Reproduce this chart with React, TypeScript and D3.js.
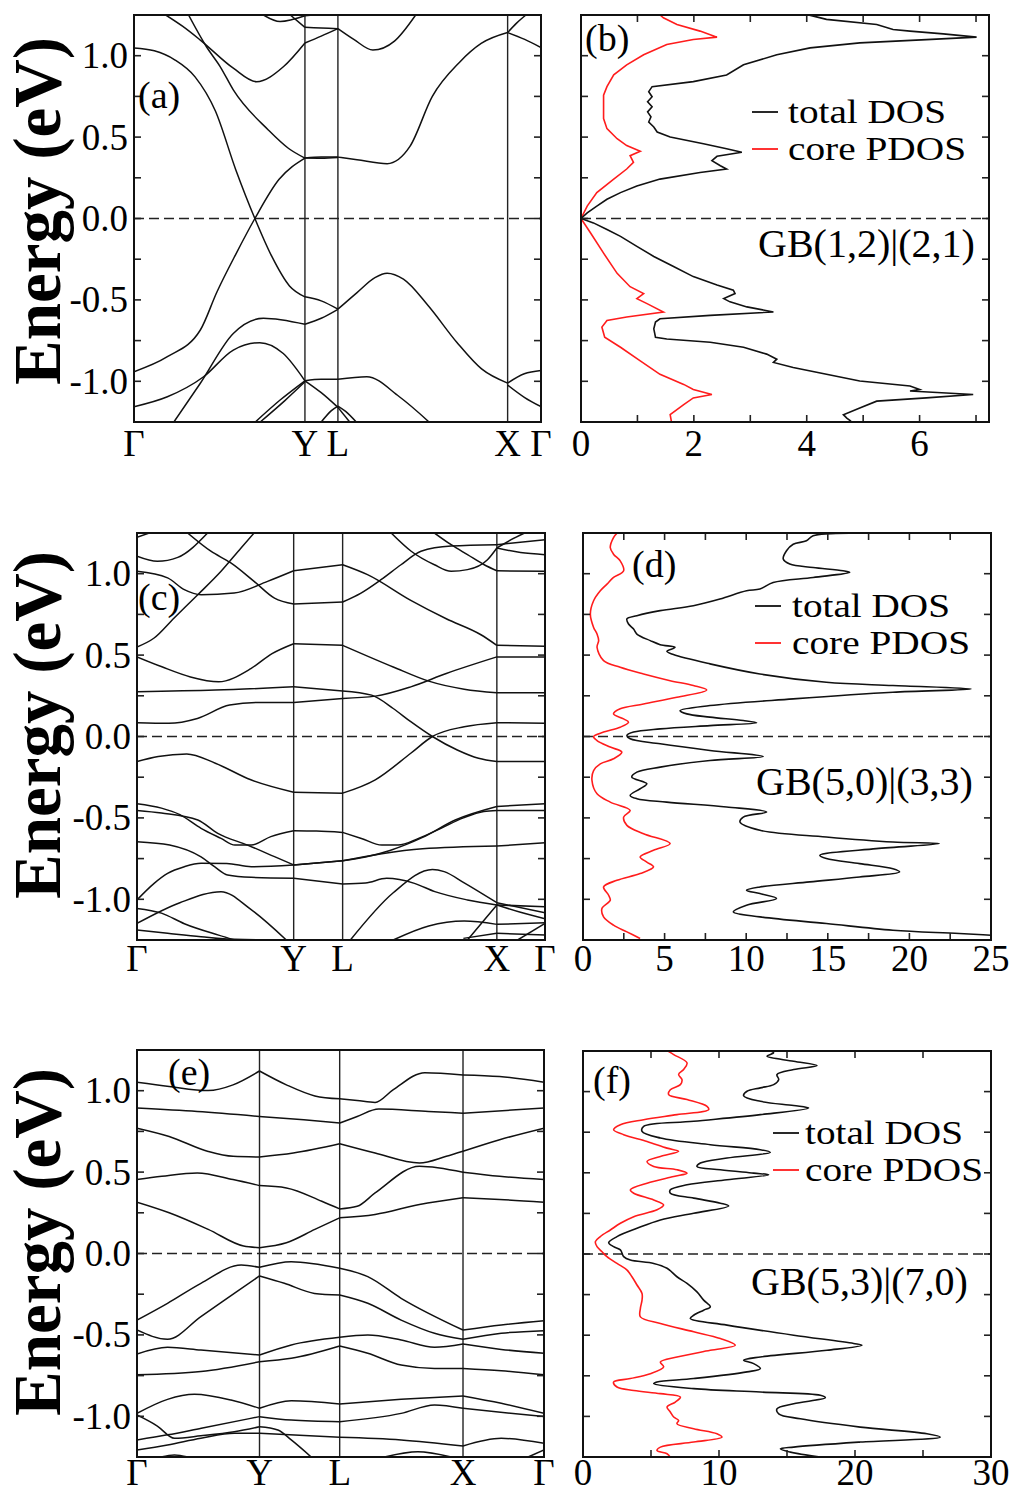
import React, { useEffect, useRef } from "react";
import * as d3 from "d3";

type Pt = [number, number];

// k-path (fraction of path length) of the high-symmetry points
const kLabels = ["Γ", "Y", "L", "X", "Γ"];
const kPathA = [0, 0.42, 0.501, 0.918, 1];
const kPathC = [0, 0.384, 0.504, 0.882, 1];
const kPathE = [0, 0.301, 0.498, 0.801, 1];

const energyRange: Pt = [-1.25, 1.25];
const energyTicks = [1.0, 0.5, 0.0, -0.5, -1.0];
const energyTickLabels = ["1.0", "0.5", "0.0", "-0.5", "-1.0"];

const dosTicksB = [0, 2, 4, 6];
const dosTicksD = [0, 5, 10, 15, 20, 25];
const dosTicksF = [0, 10, 20, 30];

const legendNames = ["total DOS", "core PDOS"];
const gbNames = ["GB(1,2)|(2,1)", "GB(5,0)|(3,3)", "GB(5,3)|(7,0)"];
const panelNames = ["(a)", "(b)", "(c)", "(d)", "(e)", "(f)"];

// bands: [k, E]
const bandsA: Pt[][] = [
  [[0, 1.048], [0.05, 1.03], [0.1, 0.975], [0.15, 0.87], [0.2, 0.66], [0.25, 0.3], [0.297, 0], [0.338, -0.23], [0.382, -0.414], [0.42, -0.481], [0.46, -0.506], [0.501, -0.557], [0.548, -0.455], [0.592, -0.363], [0.622, -0.336], [0.662, -0.373], [0.723, -0.536], [0.793, -0.76], [0.854, -0.924], [0.918, -1.011], [0.959, -0.954], [1, -0.934]],
  [[0, -0.941], [0.082, -0.849], [0.163, -0.685], [0.204, -0.45], [0.25, -0.22], [0.297, 0], [0.356, 0.239], [0.42, 0.371], [0.46, 0.377], [0.501, 0.377], [0.548, 0.361], [0.622, 0.337], [0.678, 0.443], [0.733, 0.75], [0.8, 0.96], [0.853, 1.075], [0.918, 1.142], [0.96, 1.1], [1, 1.05]],
  [[0.918, 1.142], [0.94, 1.2], [0.963, 1.25]],
  [[0.078, 1.25], [0.12, 1.18], [0.163, 1.096], [0.244, 0.923], [0.301, 0.84], [0.367, 0.932], [0.42, 1.078], [0.46, 1.12], [0.501, 1.166], [0.54, 1.1], [0.587, 1.035], [0.64, 1.09], [0.692, 1.25]],
  [[0.134, 1.25], [0.178, 1.055], [0.212, 0.932], [0.244, 0.79], [0.33, 0.544], [0.38, 0.43], [0.42, 0.371], [0.46, 0.37], [0.501, 0.375]],
  [[0.318, 1.25], [0.359, 1.21], [0.42, 1.245], [0.44, 1.25]],
  [[0.384, 1.25], [0.42, 1.174], [0.46, 1.17], [0.501, 1.166]],
  [[0, -1.156], [0.082, -1.095], [0.171, -0.972], [0.244, -0.808], [0.309, -0.763], [0.366, -0.828], [0.42, -0.997], [0.46, -0.988], [0.501, -0.988], [0.572, -0.972], [0.652, -1.095], [0.725, -1.25]],
  [[0.098, -1.25], [0.163, -1.012], [0.244, -0.706], [0.318, -0.613], [0.42, -0.65], [0.46, -0.613], [0.501, -0.558]],
  [[0.918, -1.023], [0.96, -1.1], [1, -1.156]],
  [[0.298, -1.25], [0.359, -1.115], [0.42, -0.997]],
  [[0.31, -1.25], [0.37, -1.12], [0.42, -1.003]],
  [[0.42, -0.997], [0.46, -1.07], [0.501, -1.16], [0.53, -1.25]],
  [[0.46, -1.25], [0.485, -1.18], [0.501, -1.152], [0.52, -1.185], [0.546, -1.25]],
];

const bandsC: Pt[][] = [
  [[0, 1.224], [0.03, 1.25]],
  [[0, 1.107], [0.05, 1.076], [0.1, 1.1], [0.173, 1.25]],
  [[0, 1.015], [0.075, 0.974], [0.116, 0.902], [0.157, 0.871], [0.238, 0.881], [0.32, 0.953], [0.384, 1.018], [0.504, 1.055], [0.565, 0.994], [0.671, 0.836], [0.758, 0.723], [0.843, 0.625], [0.882, 0.56], [1, 0.554]],
  [[0.124, 1.25], [0.181, 1.138], [0.23, 1.066], [0.287, 0.953], [0.337, 0.85], [0.384, 0.814], [0.504, 0.826], [0.549, 0.881], [0.598, 0.963], [0.647, 1.055], [0.696, 1.138], [0.77, 1.17], [0.882, 1.178], [1, 1.209]],
  [[0, 0.55], [0.042, 0.605], [0.091, 0.728], [0.149, 0.871], [0.206, 1.015], [0.255, 1.158], [0.287, 1.25]],
  [[0.623, 1.25], [0.672, 1.138], [0.729, 1.055], [0.77, 1.015], [0.81, 1.025], [0.859, 1.086], [0.882, 1.158], [0.94, 1.13], [1, 1.117]],
  [[0.882, 1.158], [0.917, 1.209], [0.95, 1.25]],
  [[0.729, 1.25], [0.77, 1.178], [0.81, 1.117], [0.851, 1.055], [0.882, 1.018], [1, 1.015]],
  [[0, 0.489], [0.061, 0.428], [0.131, 0.366], [0.2, 0.336], [0.279, 0.417], [0.331, 0.509], [0.384, 0.57], [0.504, 0.56], [0.628, 0.427], [0.715, 0.34], [0.802, 0.29], [0.882, 0.268], [1, 0.268]],
  [[0, 0.085], [0.078, 0.081], [0.148, 0.111], [0.227, 0.193], [0.297, 0.209], [0.384, 0.209], [0.504, 0.234], [0.584, 0.248], [0.671, 0.305], [0.758, 0.387], [0.882, 0.489], [1, 0.489]],
  [[0, 0.275], [0.192, 0.285], [0.384, 0.305], [0.504, 0.28], [0.575, 0.254], [0.628, 0.172], [0.671, 0.091], [0.724, 0], [0.785, -0.083], [0.837, -0.134], [0.882, -0.154], [1, -0.154]],
  [[0, -0.154], [0.052, -0.123], [0.122, -0.107], [0.192, -0.164], [0.279, -0.266], [0.384, -0.342], [0.504, -0.348], [0.584, -0.266], [0.671, -0.103], [0.724, 0], [0.802, 0.06], [0.882, 0.085], [1, 0.081]],
  [[0, -0.413], [0.06, -0.44], [0.105, -0.48], [0.157, -0.564], [0.206, -0.626], [0.24, -0.667], [0.28, -0.667], [0.328, -0.615], [0.384, -0.579], [0.44, -0.581], [0.504, -0.589], [0.55, -0.626], [0.6, -0.667], [0.64, -0.667], [0.69, -0.626], [0.745, -0.564], [0.8, -0.5], [0.85, -0.46], [0.882, -0.454], [1, -0.454]],
  [[0, -0.454], [0.06, -0.47], [0.149, -0.513], [0.198, -0.595], [0.271, -0.667], [0.337, -0.738], [0.384, -0.789], [0.504, -0.763], [0.56, -0.74], [0.62, -0.7], [0.7, -0.62], [0.78, -0.513], [0.882, -0.43], [1, -0.413]],
  [[0, -0.646], [0.08, -0.667], [0.157, -0.74], [0.19, -0.8], [0.222, -0.851], [0.28, -0.865], [0.384, -0.87], [0.504, -0.906], [0.56, -0.9], [0.612, -0.871], [0.68, -0.902], [0.73, -0.953], [0.81, -1.004], [0.882, -1.035], [1, -1.045]],
  [[0, -1.004], [0.042, -0.902], [0.075, -0.841], [0.116, -0.8], [0.157, -0.779], [0.22, -0.78], [0.28, -0.8], [0.384, -0.79], [0.504, -0.763], [0.6, -0.72], [0.7, -0.69], [0.882, -0.673], [1, -0.652]],
  [[0, -1.056], [0.06, -1.085], [0.116, -1.15], [0.2, -1.22], [0.24, -1.25]],
  [[0, -1.148], [0.105, -1.021], [0.206, -0.953], [0.279, -1.062], [0.366, -1.25]],
  [[0, -1.189], [0.075, -1.209], [0.157, -1.23], [0.239, -1.246], [0.384, -1.25]],
  [[0.523, -1.25], [0.628, -0.96], [0.724, -0.817], [0.753, -0.83], [0.802, -0.899], [0.882, -1.021], [1, -1.083]],
  [[0.81, -1.25], [0.85, -1.13], [0.882, -1.035], [0.94, -1.08], [1, -1.12]],
  [[0.628, -1.25], [0.715, -1.164], [0.802, -1.134], [0.882, -1.154], [1, -1.144]],
  [[0.8, -1.24], [0.882, -1.209], [1, -1.219]],
  [[0.933, -1.25], [1, -1.148]],
];

const bandsE: Pt[][] = [
  [[0, 1.052], [0.079, 1.026], [0.175, 1.001], [0.236, 1.036], [0.301, 1.121], [0.367, 1.036], [0.437, 0.968], [0.498, 0.95], [0.541, 0.94], [0.585, 0.928], [0.629, 1.005], [0.707, 1.111], [0.801, 1.097], [0.891, 1.087], [1, 1.052]],
  [[0, 0.893], [0.148, 0.872], [0.301, 0.842], [0.41, 0.821], [0.498, 0.801], [0.541, 0.842], [0.594, 0.887], [0.716, 0.872], [0.801, 0.862], [1, 0.893]],
  [[0, 0.77], [0.079, 0.719], [0.175, 0.627], [0.236, 0.597], [0.301, 0.593], [0.384, 0.617], [0.498, 0.674], [0.585, 0.617], [0.694, 0.556], [0.76, 0.597], [0.801, 0.628], [0.891, 0.699], [1, 0.77]],
  [[0, 0.454], [0.061, 0.474], [0.148, 0.495], [0.236, 0.454], [0.301, 0.417], [0.367, 0.403], [0.454, 0.321], [0.498, 0.274], [0.541, 0.29], [0.585, 0.372], [0.694, 0.536], [0.801, 0.499], [0.891, 0.474], [1, 0.454]],
  [[0, 0.315], [0.079, 0.25], [0.175, 0.148], [0.262, 0.046], [0.301, 0.036], [0.367, 0.066], [0.437, 0.148], [0.498, 0.219], [0.585, 0.24], [0.694, 0.301], [0.801, 0.342], [0.891, 0.332], [1, 0.315]],
  [[0, -0.409], [0.075, -0.306], [0.157, -0.183], [0.256, -0.071], [0.301, -0.085], [0.379, -0.05], [0.498, -0.091], [0.567, -0.142], [0.649, -0.275], [0.801, -0.47], [0.895, -0.439], [1, -0.413]],
  [[0, -0.47], [0.075, -0.527], [0.157, -0.388], [0.239, -0.245], [0.301, -0.138], [0.362, -0.183], [0.436, -0.245], [0.498, -0.255], [0.567, -0.306], [0.649, -0.409], [0.731, -0.49], [0.801, -0.527], [0.895, -0.49], [1, -0.474]],
  [[0, -0.617], [0.075, -0.576], [0.157, -0.593], [0.301, -0.624], [0.379, -0.562], [0.498, -0.515], [0.567, -0.501], [0.649, -0.531], [0.731, -0.576], [0.801, -0.556], [0.895, -0.589], [1, -0.613]],
  [[0, -0.745], [0.157, -0.725], [0.301, -0.665], [0.379, -0.644], [0.498, -0.568], [0.567, -0.613], [0.649, -0.685], [0.731, -0.706], [0.801, -0.706], [0.895, -0.72], [1, -0.745]],
  [[0, -0.982], [0.075, -0.896], [0.141, -0.865], [0.231, -0.9], [0.301, -0.951], [0.379, -0.904], [0.498, -0.924], [0.649, -0.896], [0.801, -0.875], [0.895, -0.92], [1, -0.982]],
  [[0, -1.145], [0.075, -1.114], [0.158, -1.073], [0.301, -1.002], [0.379, -1.023], [0.498, -1.033], [0.649, -0.982], [0.731, -0.93], [0.801, -0.951], [1, -1.002]],
  [[0, -0.992], [0.05, -1.06], [0.092, -1.135], [0.157, -1.12], [0.239, -1.095], [0.301, -1.064], [0.346, -1.084], [0.379, -1.145], [0.428, -1.25]],
  [[0, -1.207], [0.075, -1.176], [0.157, -1.135], [0.239, -1.104], [0.301, -1.104], [0.498, -1.129], [0.649, -1.145], [0.801, -1.182], [0.895, -1.135], [1, -1.166]],
  [[0.059, -1.25], [0.092, -1.237], [0.125, -1.25]],
  [[0.608, -1.25], [0.69, -1.217], [0.772, -1.25]],
  [[0.961, -1.25], [1, -1.207]],
];

// DOS: [E, states/eV]
const totalDosB: Pt[] = [
  [1.25, 4.03], [1.243, 4.12], [1.223, 4.35], [1.192, 5.24], [1.161, 5.53], [1.151, 5.83], [1.134, 6.42], [1.114, 7.01], [1.099, 6.12], [1.079, 4.94], [1.048, 4.06], [1.006, 3.47], [0.944, 2.88], [0.882, 2.58], [0.841, 1.99], [0.81, 1.26], [0.779, 1.2], [0.748, 1.26], [0.717, 1.18], [0.686, 1.26], [0.655, 1.18], [0.624, 1.24], [0.593, 1.2], [0.562, 1.29], [0.531, 1.35], [0.5, 1.58], [0.459, 2.17], [0.428, 2.58], [0.407, 2.85], [0.382, 2.41], [0.355, 2.32], [0.324, 2.47], [0.304, 2.58], [0.283, 2.11], [0.242, 1.4], [0.2, 0.99], [0.159, 0.7], [0.118, 0.46], [0.076, 0.28], [0.035, 0.11], [0, 0],
  [-0.027, 0.22], [-0.068, 0.46], [-0.11, 0.7], [-0.171, 0.99], [-0.233, 1.29], [-0.295, 1.64], [-0.357, 1.99], [-0.409, 2.41], [-0.44, 2.7], [-0.461, 2.73], [-0.492, 2.53], [-0.512, 2.64], [-0.543, 2.94], [-0.574, 3.41], [-0.595, 2.29], [-0.616, 1.4], [-0.636, 1.32], [-0.678, 1.29], [-0.729, 1.32], [-0.74, 1.52], [-0.76, 2.29], [-0.791, 2.88], [-0.833, 3.29], [-0.864, 3.47], [-0.884, 3.41], [-0.915, 3.76], [-0.957, 4.35], [-0.998, 4.94], [-1.029, 5.83], [-1.05, 6.0], [-1.06, 5.83], [-1.081, 6.95], [-1.102, 6.12], [-1.122, 5.24], [-1.164, 4.94], [-1.205, 4.65], [-1.226, 4.71], [-1.242, 4.77], [-1.263, 4.83],
];
const coreDosB: Pt[] = [
  [1.25, 1.4], [1.233, 1.46], [1.192, 1.7], [1.151, 2.11], [1.114, 2.41], [1.1, 1.99], [1.069, 1.52], [1.006, 1.11], [0.944, 0.81], [0.882, 0.58], [0.81, 0.46], [0.758, 0.4], [0.696, 0.4], [0.614, 0.4], [0.552, 0.46], [0.49, 0.64], [0.448, 0.81], [0.413, 1.05], [0.386, 0.87], [0.345, 0.93], [0.304, 0.81], [0.242, 0.58], [0.159, 0.28], [0.076, 0.11], [0, 0],
  [-0.089, 0.17], [-0.213, 0.4], [-0.337, 0.64], [-0.419, 0.87], [-0.461, 1.11], [-0.492, 0.99], [-0.523, 1.17], [-0.574, 1.46], [-0.605, 0.81], [-0.626, 0.46], [-0.667, 0.37], [-0.729, 0.42], [-0.791, 0.7], [-0.874, 1.05], [-0.957, 1.4], [-1.019, 1.82], [-1.05, 1.99], [-1.081, 2.32], [-1.102, 1.99], [-1.143, 1.82], [-1.205, 1.58], [-1.263, 1.61],
];

const totalDosD: Pt[] = [
  [1.249, 16.54], [1.233, 14.1], [1.202, 13.69], [1.181, 12.88], [1.141, 12.47], [1.09, 12.27], [1.059, 12.67], [1.038, 14.1], [1.018, 15.93], [1.008, 16.34], [0.977, 14.1], [0.946, 11.65], [0.906, 10.84], [0.895, 10.02], [0.844, 8.39], [0.803, 6.76], [0.773, 4.73], [0.742, 3.3], [0.722, 2.69], [0.691, 2.79], [0.66, 3.1], [0.629, 3.3], [0.589, 4.12], [0.564, 4.73], [0.548, 5.64], [0.523, 5.14], [0.503, 5.54], [0.446, 7.78], [0.384, 10.84], [0.333, 14.91], [0.313, 18.99], [0.292, 23.78], [0.272, 18.99], [0.231, 12.88], [0.19, 7.78], [0.159, 5.95], [0.139, 6.36], [0.119, 7.78], [0.098, 9.82], [0.084, 10.64], [0.067, 7.78], [0.047, 4.73], [0.027, 3.1], [0.006, 2.69],
  [-0.014, 2.89], [-0.045, 4.73], [-0.086, 7.78], [-0.123, 11.04], [-0.147, 7.78], [-0.188, 4.73], [-0.219, 3.3], [-0.249, 2.99], [-0.29, 3.91], [-0.321, 3.5], [-0.362, 2.89], [-0.382, 3.3], [-0.403, 5.13], [-0.433, 8.8], [-0.464, 11.25], [-0.495, 9.82], [-0.525, 9.62], [-0.576, 10.84], [-0.617, 14.91], [-0.648, 18.99], [-0.658, 21.84], [-0.689, 17.97], [-0.73, 14.51], [-0.75, 14.91], [-0.781, 16.95], [-0.812, 18.99], [-0.832, 19.4], [-0.863, 16.95], [-0.893, 13.9], [-0.924, 10.84], [-0.944, 10.02], [-0.965, 10.84], [-0.995, 11.86], [-1.036, 10.02], [-1.077, 9.21], [-1.108, 10.84], [-1.149, 14.91], [-1.19, 18.99], [-1.21, 23.06], [-1.23, 26.7],
];
const coreDosD: Pt[] = [
  [1.249, 2.08], [1.222, 1.87], [1.161, 1.67], [1.12, 1.87], [1.079, 2.28], [1.018, 2.49], [0.977, 1.87], [0.936, 1.47], [0.895, 1.06], [0.834, 0.65], [0.752, 0.45], [0.67, 0.65], [0.63, 0.86], [0.589, 0.96], [0.548, 0.86], [0.466, 1.26], [0.425, 2.28], [0.384, 3.71], [0.343, 5.34], [0.313, 6.76], [0.286, 7.58], [0.241, 5.75], [0.2, 3.71], [0.17, 2.28], [0.139, 1.87], [0.108, 2.49], [0.088, 2.79], [0.057, 2.28], [0.027, 1.26], [0, 0.65],
  [-0.025, 0.86], [-0.065, 1.67], [-0.096, 2.38], [-0.137, 1.87], [-0.168, 1.06], [-0.209, 0.65], [-0.27, 0.55], [-0.352, 0.86], [-0.403, 1.67], [-0.454, 2.89], [-0.495, 2.49], [-0.546, 2.69], [-0.597, 3.71], [-0.658, 5.34], [-0.699, 4.32], [-0.74, 3.5], [-0.771, 3.91], [-0.801, 4.32], [-0.842, 3.5], [-0.883, 2.08], [-0.924, 1.26], [-0.975, 1.57], [-1.006, 1.67], [-1.057, 1.16], [-1.108, 1.26], [-1.159, 1.87], [-1.2, 2.69], [-1.241, 3.5],
];

const totalDosF: Pt[] = [
  [1.253, 13.65], [1.239, 14.02], [1.218, 13.53], [1.187, 15.49], [1.16, 17.21], [1.136, 15.49], [1.105, 14.26], [1.074, 14.39], [1.043, 14.02], [1.023, 13.04], [1.002, 12.06], [0.975, 11.81], [0.94, 13.04], [0.914, 15.49], [0.899, 16.59], [0.858, 13.04], [0.817, 8.14], [0.786, 4.46], [0.755, 4.34], [0.714, 5.69], [0.673, 9.36], [0.642, 13.04], [0.626, 13.77], [0.591, 10.59], [0.56, 8.63], [0.539, 8.38], [0.519, 10.1], [0.498, 12.55], [0.488, 13.65], [0.457, 10.59], [0.426, 7.65], [0.395, 6.42], [0.374, 6.42], [0.344, 8.14], [0.313, 10.1], [0.296, 10.71], [0.251, 8.14], [0.21, 5.69], [0.158, 3.97], [0.107, 2.5], [0.07, 1.89], [0.045, 2.25], [0.025, 2.75],
  [-0.016, 2.99], [-0.037, 3.48], [-0.058, 5.2], [-0.088, 6.18], [-0.14, 6.91], [-0.181, 7.65], [-0.233, 8.38], [-0.284, 8.87], [-0.325, 9.36], [-0.346, 8.87], [-0.377, 8.14], [-0.397, 7.89], [-0.438, 10.59], [-0.5, 15.49], [-0.551, 19.9], [-0.562, 20.51], [-0.593, 17.94], [-0.634, 13.04], [-0.654, 11.81], [-0.675, 12.55], [-0.706, 13.04], [-0.726, 12.06], [-0.767, 8.14], [-0.788, 5.44], [-0.798, 5.2], [-0.829, 8.14], [-0.85, 13.04], [-0.87, 17.45], [-0.885, 17.82], [-0.922, 15.49], [-0.953, 14.26], [-0.984, 14.39], [-1.015, 15.98], [-1.066, 20.39], [-1.107, 25.29], [-1.128, 26.27], [-1.158, 20.39], [-1.189, 15.49], [-1.2, 14.51], [-1.22, 15.25], [-1.251, 17.45],
];
const coreDosF: Pt[] = [
  [1.253, 6.18], [1.228, 6.67], [1.177, 7.65], [1.136, 7.4], [1.105, 7.03], [1.074, 7.28], [1.043, 7.16], [1.012, 6.42], [0.981, 6.3], [0.951, 7.65], [0.909, 9.12], [0.889, 9.24], [0.858, 6.91], [0.827, 4.46], [0.796, 2.75], [0.765, 2.25], [0.735, 2.99], [0.693, 4.71], [0.652, 6.18], [0.632, 7.03], [0.601, 5.69], [0.57, 4.71], [0.539, 5.2], [0.519, 6.91], [0.498, 7.65], [0.477, 6.67], [0.436, 4.71], [0.395, 3.48], [0.374, 3.73], [0.333, 5.2], [0.302, 5.93], [0.272, 5.44], [0.23, 3.73], [0.189, 2.75], [0.148, 2.01], [0.107, 1.27], [0.076, 0.91], [0.045, 1.03], [0.014, 1.4],
  [-0.016, 1.76], [-0.058, 2.5], [-0.099, 3.24], [-0.14, 3.6], [-0.191, 3.97], [-0.243, 4.34], [-0.284, 4.34], [-0.335, 4.22], [-0.387, 4.22], [-0.428, 5.69], [-0.479, 8.14], [-0.521, 10.1], [-0.562, 11.2], [-0.593, 9.36], [-0.634, 6.91], [-0.665, 5.69], [-0.695, 5.93], [-0.737, 4.95], [-0.767, 3.48], [-0.788, 2.25], [-0.819, 2.5], [-0.84, 3.73], [-0.86, 5.69], [-0.881, 7.16], [-0.912, 6.79], [-0.942, 6.18], [-0.973, 6.42], [-1.004, 6.67], [-1.025, 7.03], [-1.045, 6.91], [-1.076, 8.14], [-1.107, 9.85], [-1.128, 10.22], [-1.158, 8.14], [-1.189, 5.69], [-1.21, 5.44], [-1.23, 6.18], [-1.251, 6.42],
];

const FONT = '"Liberation Serif", "Times New Roman", serif';
const RED = "#ff1c1c";

type Box = { x0: number; x1: number; y0: number; y1: number };

function frameAndTicks(svg: any, box: Box, y: any) {
  // energy ticks every 0.25 eV, inward on both sides
  d3.range(-1, 1.001, 0.25).forEach((e: number) => {
    [
      [box.x0, box.x0 + 7],
      [box.x1, box.x1 - 7],
    ].forEach(([a, b]) => {
      svg.append("line").attr("x1", a).attr("x2", b).attr("y1", y(e)).attr("y2", y(e))
        .attr("stroke", "#222").attr("stroke-width", 1.6);
    });
  });
  svg.append("rect")
    .attr("x", box.x0).attr("y", box.y0)
    .attr("width", box.x1 - box.x0).attr("height", box.y1 - box.y0)
    .attr("fill", "none").attr("stroke", "#111").attr("stroke-width", 2);
}

function drawBand(svg: any, id: string, box: Box, kPath: number[], bands: Pt[][], labelBase: number) {
  const x = d3.scaleLinear().domain([0, 1]).range([box.x0, box.x1]);
  const y = d3.scaleLinear().domain(energyRange).range([box.y1, box.y0]);

  svg.append("clipPath").attr("id", id).append("rect")
    .attr("x", box.x0).attr("y", box.y0).attr("width", box.x1 - box.x0).attr("height", box.y1 - box.y0);
  const g = svg.append("g").attr("clip-path", `url(#${id})`);

  kPath.slice(1, -1).forEach((k) => {
    g.append("line").attr("x1", x(k)).attr("x2", x(k)).attr("y1", box.y0).attr("y2", box.y1)
      .attr("stroke", "#222").attr("stroke-width", 1.4);
  });
  g.append("line").attr("x1", box.x0).attr("x2", box.x1).attr("y1", y(0)).attr("y2", y(0))
    .attr("stroke", "#222").attr("stroke-width", 1.6).attr("stroke-dasharray", "10,5");

  const line = d3.line<Pt>().x((d) => x(d[0])).y((d) => y(d[1])).curve(d3.curveMonotoneX);
  bands.forEach((b) => {
    for (let i = 0; i < kPath.length - 1; i++) {
      const seg = b.filter((p) => p[0] >= kPath[i] - 1e-6 && p[0] <= kPath[i + 1] + 1e-6);
      if (seg.length > 1) {
        g.append("path").attr("d", line(seg)).attr("fill", "none")
          .attr("stroke", "#111").attr("stroke-width", 1.5);
      }
    }
  });

  frameAndTicks(svg, box, y);

  energyTicks.forEach((e, i) => {
    svg.append("text").attr("x", box.x0 - 6).attr("y", y(e))
      .attr("text-anchor", "end").attr("dominant-baseline", "central")
      .style("font-family", FONT).style("font-size", "37px").text(energyTickLabels[i]);
  });
  kPath.forEach((k, i) => {
    svg.append("text").attr("x", x(k)).attr("y", labelBase).attr("text-anchor", "middle")
      .style("font-family", FONT).style("font-size", "37px").text(kLabels[i]);
  });
}

function drawDos(svg: any, id: string, box: Box, max: number, ticks: number[], minor: number,
  total: Pt[], core: Pt[], curve: any, labelBase: number) {
  const x = d3.scaleLinear().domain([0, max]).range([box.x0, box.x1]);
  const y = d3.scaleLinear().domain(energyRange).range([box.y1, box.y0]);

  svg.append("clipPath").attr("id", id).append("rect")
    .attr("x", box.x0).attr("y", box.y0).attr("width", box.x1 - box.x0).attr("height", box.y1 - box.y0);
  const g = svg.append("g").attr("clip-path", `url(#${id})`);

  const line = d3.line<Pt>().x((d) => x(d[1])).y((d) => y(d[0])).curve(curve);
  g.append("line").attr("x1", box.x0).attr("x2", box.x1).attr("y1", y(0)).attr("y2", y(0))
    .attr("stroke", "#222").attr("stroke-width", 1.6).attr("stroke-dasharray", "10,5");
  g.append("path").attr("d", line(core)).attr("fill", "none").attr("stroke", RED).attr("stroke-width", 1.6);
  g.append("path").attr("d", line(total)).attr("fill", "none").attr("stroke", "#111").attr("stroke-width", 1.6);

  d3.range(minor, max - 1e-6, minor).forEach((v: number) => {
    [
      [box.y1, box.y1 - 7],
      [box.y0, box.y0 + 7],
    ].forEach(([a, b]) => {
      svg.append("line").attr("x1", x(v)).attr("x2", x(v)).attr("y1", a).attr("y2", b)
        .attr("stroke", "#222").attr("stroke-width", 1.6);
    });
  });
  frameAndTicks(svg, box, y);

  ticks.forEach((t) => {
    svg.append("text").attr("x", x(t)).attr("y", labelBase).attr("text-anchor", "middle")
      .style("font-family", FONT).style("font-size", "37px").text(String(t));
  });
}

function txt(svg: any, s: string, xPos: number, yPos: number, size: number) {
  return svg.append("text").attr("x", xPos).attr("y", yPos)
    .style("font-family", FONT).style("font-size", size + "px").text(s);
}

function drawLegend(svg: any, lx: number, tx: number, ly: number) {
  const step = 37;
  const widths = [158, 178];
  [0, 1].forEach((i) => {
    const yy = ly + i * step;
    svg.append("line").attr("x1", lx).attr("x2", lx + 26).attr("y1", yy).attr("y2", yy)
      .attr("stroke", i === 0 ? "#111" : RED).attr("stroke-width", 1.8);
    txt(svg, legendNames[i], tx, yy + 11, 33)
      .attr("textLength", widths[i]).attr("lengthAdjust", "spacingAndGlyphs");
  });
}

export default function App() {
  const ref = useRef<SVGSVGElement>(null);

  useEffect(() => {
    const svg = d3.select(ref.current);
    svg.selectAll("*").remove();
    svg.append("rect").attr("width", 1017).attr("height", 1495).attr("fill", "#fff");

    // row 1
    drawBand(svg, "cA", { x0: 134, x1: 541, y0: 15, y1: 422 }, kPathA, bandsA, 456);
    drawDos(svg, "cB", { x0: 581, x1: 989, y0: 15, y1: 422 }, 7.23, dosTicksB, 1, totalDosB, coreDosB, d3.curveLinear, 456);
    // row 2
    drawBand(svg, "cC", { x0: 137, x1: 545, y0: 533, y1: 940 }, kPathC, bandsC, 971);
    drawDos(svg, "cD", { x0: 583, x1: 991, y0: 533, y1: 940 }, 25, dosTicksD, 2.5, totalDosD, coreDosD, d3.curveCatmullRom.alpha(0.5), 971);
    // row 3
    drawBand(svg, "cE", { x0: 137, x1: 544, y0: 1050, y1: 1457 }, kPathE, bandsE, 1485);
    drawDos(svg, "cF", { x0: 583, x1: 991, y0: 1051, y1: 1457 }, 30, dosTicksF, 5, totalDosF, coreDosF, d3.curveCatmullRom.alpha(0.5), 1485);

    // axis titles
    [211, 725, 1242].forEach((cy) => {
      svg.append("text").attr("transform", `translate(60,${cy}) rotate(-90)`)
        .attr("text-anchor", "middle").style("font-family", FONT)
        .style("font-size", "67px").style("font-weight", "bold").text("Energy (eV)");
    });

    // panel labels
    const labelPos = [[138, 108], [585, 51], [138, 610], [632, 577], [168, 1085], [593, 1093]];
    panelNames.forEach((n, i) => txt(svg, n, labelPos[i][0], labelPos[i][1], 38));

    // legends and GB names
    drawLegend(svg, 752, 788, 112);
    drawLegend(svg, 755, 792, 606);
    drawLegend(svg, 773, 805, 1133);
    txt(svg, gbNames[0], 758, 257, 40);
    txt(svg, gbNames[1], 756, 795, 40);
    txt(svg, gbNames[2], 751, 1295, 40);
  }, []);

  return (
    <svg ref={ref} width={1017} height={1495}
      style={{ position: "absolute", left: 0, top: 0, display: "block" }} />
  );
}
